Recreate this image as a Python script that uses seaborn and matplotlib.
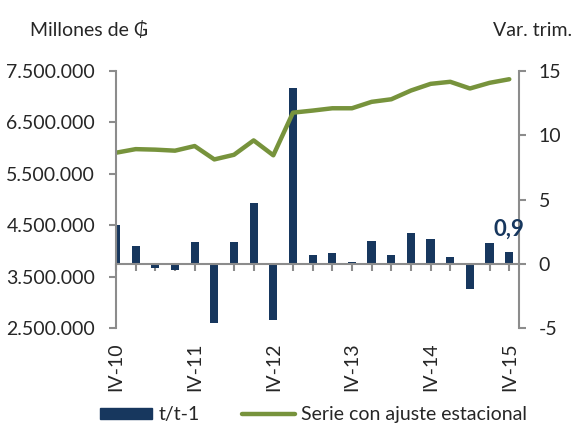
import numpy as np
import pandas as pd
import matplotlib
matplotlib.use('Agg')
import matplotlib.pyplot as plt
import matplotlib.transforms as mtransforms
from matplotlib.patches import Patch
from matplotlib.lines import Line2D
import seaborn as sns

# Datos
trimestres = ['IV-10', 'I-11', 'II-11', 'III-11', 'IV-11', 'I-12', 'II-12', 'III-12',
              'IV-12', 'I-13', 'II-13', 'III-13', 'IV-13', 'I-14', 'II-14', 'III-14',
              'IV-14', 'I-15', 'II-15', 'III-15', 'IV-15']
var_trim = [3.0, 1.4, -0.3, -0.5, 1.7, -4.6, 1.7, 4.7, -4.4, 13.7, 0.7,
            0.8, 0.1, 1.8, 0.7, 2.4, 1.9, 0.5, -2.0, 1.6, 0.9]
serie_ajustada = [5.91, 5.98, 5.97, 5.95, 6.04, 5.78, 5.87, 6.15, 5.86, 6.69, 6.73,
                  6.775, 6.775, 6.90, 6.95, 7.12, 7.25, 7.29, 7.16, 7.27, 7.34]
serie_ajustada = [v * 1e6 for v in serie_ajustada]
etiquetas_x = ['IV-10', 'IV-11', 'IV-12', 'IV-13', 'IV-14', 'IV-15']

df = pd.DataFrame({'trimestre': trimestres, 'var': var_trim, 'serie': serie_ajustada})
df['pos'] = np.arange(len(df))

azul = '#17375E'
verde = '#77933C'
gris = '#8C8C8C'

sns.set_theme(style='white')
plt.rcParams['font.family'] = ['Lato', 'DejaVu Sans']
plt.rcParams['font.size'] = 14

fig, ax_bar = plt.subplots(figsize=(5.8, 4.29), dpi=100)
fig.subplots_adjust(left=0.2, right=0.895, bottom=0.2354, top=0.8345)
ax_line = ax_bar.twinx()

# Barras: variación trimestral (eje derecho)
sns.barplot(data=df, x='pos', y='var', native_scale=True, color=azul, width=0.42,
            saturation=1, linewidth=0, ax=ax_bar)
ax_bar.set_xlim(0, len(df) - 0.5)
ax_bar.set_ylim(-5, 15)
ax_bar.set_yticks([-5, 0, 5, 10, 15])
ax_bar.set_yticklabels(['-5', '0', '5', '10', '15'])
ax_bar.yaxis.tick_right()
ax_bar.set_xticks(df['pos'])
ax_bar.set_xticklabels([''] * len(df))
ax_bar.set_xlabel('')
ax_bar.set_ylabel('')
ax_bar.spines['bottom'].set_position(('data', 0))
for s in ['top', 'left']:
    ax_bar.spines[s].set_visible(False)
for s in ['right', 'bottom']:
    ax_bar.spines[s].set_color(gris)
    ax_bar.spines[s].set_linewidth(1.5)
ax_bar.tick_params(axis='y', direction='out', length=5, width=1.5, color=gris,
                   pad=9, labelsize=14, right=True, left=False,
                   labelright=True, labelleft=False)
ax_bar.tick_params(axis='x', direction='out', length=5, width=1.5, color=gris, bottom=True)

# Etiquetas de trimestres abajo
trans = mtransforms.blended_transform_factory(ax_bar.transData, ax_bar.transAxes)
for t in etiquetas_x:
    p = trimestres.index(t)
    ax_bar.text(p, -0.055, t, transform=trans, rotation=90, ha='center', va='top',
                fontsize=14)

# Último valor
ax_bar.annotate(f'{var_trim[-1]:.1f}'.replace('.', ','), (df['pos'].iloc[-1], var_trim[-1]),
                xytext=(0, 9), textcoords='offset points', ha='center', va='bottom',
                fontsize=16, fontweight='bold', color=azul)

# Línea: serie con ajuste estacional (eje izquierdo)
sns.lineplot(data=df, x='pos', y='serie', color=verde, linewidth=3.2, ax=ax_line)
ax_line.set_ylim(2.5e6, 7.5e6)
ax_line.set_yticks(np.arange(2.5e6, 7.6e6, 1e6))
ax_line.set_yticklabels([f'{int(v):,}'.replace(',', '.') for v in np.arange(2.5e6, 7.6e6, 1e6)])
ax_line.yaxis.tick_left()
ax_line.set_ylabel('')
ax_line.set_xlabel('')
for s in ['top', 'right', 'bottom']:
    ax_line.spines[s].set_visible(False)
ax_line.spines['left'].set_color(gris)
ax_line.spines['left'].set_linewidth(1.5)
ax_line.tick_params(axis='y', direction='out', length=5, width=1.5, color=gris,
                    pad=10, labelsize=14, left=True, right=False,
                    labelleft=True, labelright=False)

# Títulos de ejes
fig.text(30 / 580, 1 - 30 / 429, 'Millones de ₲', ha='left', va='center', fontsize=14)
fig.text(572 / 580, 1 - 30 / 429, 'Var. trim.', ha='right', va='center', fontsize=14)

# Leyenda
handles = [Patch(color=azul, label='t/t-1'),
           Line2D([0], [0], color=verde, linewidth=3.2, label='Serie con ajuste estacional')]
fig.legend(handles=handles, loc='center', bbox_to_anchor=(0.54, 0.033), ncol=2,
           frameon=False, fontsize=14, handlelength=2.7, handletextpad=0.3,
           columnspacing=2.2, handleheight=0.55)

plt.savefig('out.png', dpi=100)
